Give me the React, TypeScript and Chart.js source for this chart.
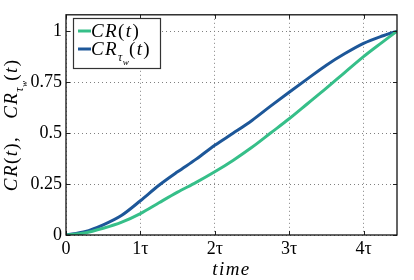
import React, { useEffect, useRef } from "react";
import { Chart, registerables } from "chart.js";

Chart.register(...registerables);

// ---- data ----
const times = [0, 0.25, 0.5, 0.75, 1, 1.25, 1.5, 1.75, 2, 2.25, 2.5, 2.75, 3, 3.25, 3.5, 3.75, 4, 4.25, 4.45];
const crValues = [0, 0.01, 0.033, 0.063, 0.105, 0.158, 0.21, 0.258, 0.31, 0.367, 0.43, 0.5, 0.57, 0.645, 0.72, 0.798, 0.875, 0.945, 1.0];
const crTwValues = [0, 0.016, 0.05, 0.097, 0.168, 0.244, 0.31, 0.372, 0.44, 0.5, 0.562, 0.632, 0.7, 0.767, 0.833, 0.89, 0.94, 0.976, 1.0];
const seriesLabels = ["CR(t)", "CR_{τ_{w}}(t)"];
const xTickValues = [0, 1, 2, 3, 4];
const xTickLabels = ["0", "1τ", "2τ", "3τ", "4τ"];
const yTickValues = [0, 0.25, 0.5, 0.75, 1];
const yTickLabels = ["0", "0.25", "0.5", "0.75", "1"];
const xTitle = "time";
const yTitle = "CR(t),\u2002 CR_{τ_{w}}(t)";

const GREEN = "#36bf89";
const BLUE = "#1d5799";
const SERIF = "'Liberation Serif', 'DejaVu Serif', serif";

type Seg = { text: string; level: number; italic: boolean };

function parseMath(s: string, level = 0): Seg[] {
  const out: Seg[] = [];
  let i = 0;
  while (i < s.length) {
    const c = s[i];
    if (c === "_") {
      i++;
      if (s[i] === "{") {
        let depth = 1;
        let j = i + 1;
        while (j < s.length && depth > 0) {
          if (s[j] === "{") depth++;
          else if (s[j] === "}") depth--;
          j++;
        }
        out.push(...parseMath(s.slice(i + 1, j - 1), level + 1));
        i = j;
      } else {
        out.push(...parseMath(s[i], level + 1));
        i++;
      }
    } else {
      out.push({ text: c, level, italic: /[A-Za-z\u03b1-\u03c9]/.test(c) });
      i++;
    }
  }
  return out;
}

const LEVEL_SCALE = [1, 0.62, 0.48];
const LEVEL_DY = [0, 0.3, 0.5];
const LEVEL_SPACING = [1.4, 0.4, 0.2];

function segFont(seg: Seg, size: number) {
  const sz = size * LEVEL_SCALE[Math.min(seg.level, 2)];
  return `${seg.italic ? "italic " : ""}${sz}px ${SERIF}`;
}

function segAdvance(ctx: CanvasRenderingContext2D, s: Seg, size: number) {
  ctx.font = segFont(s, size);
  return ctx.measureText(s.text).width + LEVEL_SPACING[Math.min(s.level, 2)];
}

function drawMath(ctx: CanvasRenderingContext2D, str: string, x: number, y: number, size: number, align: "left" | "center") {
  const segs = parseMath(str);
  let total = 0;
  for (const s of segs) total += segAdvance(ctx, s, size);
  let cx = align === "center" ? x - total / 2 : x;
  ctx.textAlign = "left";
  ctx.textBaseline = "alphabetic";
  for (const s of segs) {
    ctx.font = segFont(s, size);
    ctx.fillText(s.text, cx, y + LEVEL_DY[Math.min(s.level, 2)] * size);
    cx += segAdvance(ctx, s, size);
  }
}

const decorPlugin = {
  id: "decor",
  afterDraw(chart: any) {
    const ctx: CanvasRenderingContext2D = chart.ctx;
    const { left, right, top, bottom } = chart.chartArea;
    const xs = chart.scales.x;
    const ys = chart.scales.y;
    ctx.save();
    // inward ticks
    ctx.strokeStyle = "#222";
    ctx.lineWidth = 1;
    ctx.beginPath();
    for (const v of xTickValues) {
      const px = Math.round(xs.getPixelForValue(v)) + 0.5;
      ctx.moveTo(px, bottom);
      ctx.lineTo(px, bottom - 4);
      ctx.moveTo(px, top);
      ctx.lineTo(px, top + 4);
    }
    for (const v of yTickValues) {
      const py = Math.round(ys.getPixelForValue(v)) + 0.5;
      ctx.moveTo(left, py);
      ctx.lineTo(left + 4, py);
      ctx.moveTo(right, py);
      ctx.lineTo(right - 4, py);
    }
    ctx.stroke();
    // frame
    ctx.lineWidth = 1.3;
    ctx.strokeStyle = "#111";
    ctx.strokeRect(left, top, right - left, bottom - top);

    // legend
    ctx.fillStyle = "#fff";
    ctx.fillRect(73.5, 18.5, 87, 50);
    ctx.lineWidth = 1.2;
    ctx.strokeStyle = "#333";
    ctx.strokeRect(73.5, 18.5, 87, 50);
    const colors = [GREEN, BLUE];
    const rows = [31, 49];
    for (let i = 0; i < seriesLabels.length; i++) {
      ctx.strokeStyle = colors[i];
      ctx.lineWidth = 3;
      ctx.beginPath();
      ctx.moveTo(78, rows[i]);
      ctx.lineTo(91, rows[i]);
      ctx.stroke();
      ctx.fillStyle = "#000";
      drawMath(ctx, seriesLabels[i], 91, rows[i] + 6, 19, "left");
    }

    // y title
    ctx.save();
    ctx.translate(17, (top + bottom) / 2);
    ctx.rotate(-Math.PI / 2);
    ctx.fillStyle = "#000";
    drawMath(ctx, yTitle, 0, 0, 19, "center");
    ctx.restore();

    // x title
    ctx.fillStyle = "#000";
    drawMath(ctx, xTitle, (left + right) / 2, 275, 19, "center");
    ctx.restore();
  },
};

export default function App() {
  const ref = useRef<HTMLCanvasElement | null>(null);
  useEffect(() => {
    if (!ref.current) return;
    const chart = new Chart(ref.current, {
      type: "line",
      data: {
        datasets: [
          {
            label: seriesLabels[0],
            data: times.map((t, i) => ({ x: t, y: crValues[i] })),
            borderColor: GREEN,
            borderWidth: 3,
            pointRadius: 0,
            cubicInterpolationMode: "monotone",
            fill: false,
          },
          {
            label: seriesLabels[1],
            data: times.map((t, i) => ({ x: t, y: crTwValues[i] })),
            borderColor: BLUE,
            borderWidth: 3,
            pointRadius: 0,
            cubicInterpolationMode: "monotone",
            fill: false,
          },
        ],
      },
      options: {
        animation: false,
        responsive: false,
        maintainAspectRatio: false,
        events: [],
        layout: { padding: { top: 11, right: 17, left: 0, bottom: 0 } },
        plugins: { legend: { display: false }, tooltip: { enabled: false } },
        scales: {
          x: {
            type: "linear",
            min: 0,
            max: 4.45,
            afterFit: (s: any) => {
              s.height = 45;
            },
            afterBuildTicks: (s: any) => {
              s.ticks = xTickValues.map((v) => ({ value: v }));
            },
            ticks: {
              callback: (v: any) => xTickLabels[xTickValues.indexOf(Number(v))] ?? "",
              font: { family: SERIF, size: 18 },
              color: "#000",
              padding: 3,
              maxRotation: 0,
              autoSkip: false,
            },
            grid: { color: "#808080", lineWidth: 1, drawTicks: false, tickLength: 0 },
            border: { display: false, dash: [1, 3] },
          },
          y: {
            type: "linear",
            min: 0,
            max: 1.08,
            afterFit: (s: any) => {
              s.width = 66;
            },
            afterBuildTicks: (s: any) => {
              s.ticks = yTickValues.map((v) => ({ value: v }));
            },
            ticks: {
              callback: (v: any) => yTickLabels[yTickValues.indexOf(Number(v))] ?? "",
              font: { family: SERIF, size: 18 },
              color: "#000",
              padding: 4,
              autoSkip: false,
            },
            grid: { color: "#808080", lineWidth: 1, drawTicks: false, tickLength: 0 },
            border: { display: false, dash: [1, 3] },
          },
        },
      },
      plugins: [decorPlugin],
    } as any);
    return () => chart.destroy();
  }, []);
  return (
    <div style={{ position: "fixed", left: 0, top: 0, width: 414, height: 280, background: "#fff" }}>
      <canvas ref={ref} width={414} height={280} style={{ display: "block", width: 414, height: 280 }} />
    </div>
  );
}
